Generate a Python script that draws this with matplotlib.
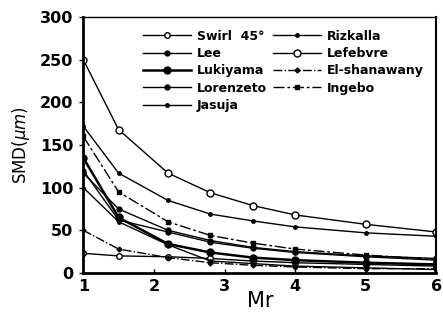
import matplotlib
matplotlib.use("Agg")
import matplotlib.pyplot as plt

# Mr positions of the measured points
mr = [1, 1.5, 2.2, 2.8, 3.4, 4, 5, 6]

# SMD (um)
swirl = [23, 20, 19, 17, 14, 12, 10, 8]
lee = [120, 62, 48, 36, 29, 24, 19, 15]
lukiyama = [135, 65, 34, 24, 18, 15, 12, 10]
lorenzeto = [117, 75, 50, 38, 30, 25, 20, 17]
jasuja = [100, 60, 33, 14, 11, 8, 6, 4]
rizkalla = [172, 117, 85, 69, 61, 54, 47, 43]
lefebvre = [250, 168, 117, 94, 79, 68, 57, 48]
el_shanawany = [50, 28, 18, 12, 9, 7, 5, 5]
ingebo = [160, 95, 60, 44, 35, 28, 21, 16]

names = ["Swirl  45°", "Lee", "Lukiyama", "Lorenzeto", "Jasuja",
         "Rizkalla", "Lefebvre", "El-shanawany", "Ingebo"]
series = [swirl, lee, lukiyama, lorenzeto, jasuja,
          rizkalla, lefebvre, el_shanawany, ingebo]

plt.rcParams['font.family'] = ['DejaVu Sans']

fig = plt.figure(figsize=(4.43, 3.2), dpi=100)
ax = fig.add_axes([0.188, 0.147, 0.797, 0.8])

# marker style for each curve
styles = [
    dict(marker='o', mfc='white', ms=4, lw=1.0, ls='-'),
    dict(marker='o', mfc='black', ms=3.5, lw=1.0, ls='-'),
    dict(marker='o', mfc='black', ms=5, lw=1.8, ls='-'),
    dict(marker='o', mfc='black', ms=3.5, lw=1.0, ls='-'),
    dict(marker='o', mfc='black', ms=2.5, lw=1.0, ls='-'),
    dict(marker='o', mfc='black', ms=2.5, lw=1.0, ls='-'),
    dict(marker='o', mfc='white', ms=5, lw=1.0, ls='-'),
    dict(marker='D', mfc='black', ms=2.5, lw=1.0, ls='-.'),
    dict(marker='s', mfc='black', ms=3.5, lw=1.0, ls=(0, (8, 2, 2, 2))),
]

for name, vals, st in zip(names, series, styles):
    ax.plot(mr, vals, color='black', mec='black', mew=1.0, label=name, **st)

ax.set_xlim(1, 6)
ax.set_ylim(0, 300)
ax.set_xticks([1, 2, 3, 4, 5, 6])
ax.set_yticks([0, 50, 100, 150, 200, 250, 300])
ax.tick_params(direction='in', length=3, width=1, labelsize=11.5, pad=4)
for lab in ax.get_xticklabels() + ax.get_yticklabels():
    lab.set_fontweight('bold')
ax.tick_params(axis='y', direction='out', length=3)

ax.spines['left'].set_linewidth(2)
ax.spines['bottom'].set_linewidth(2)
ax.spines['right'].set_linewidth(1.5)
ax.spines['top'].set_linewidth(1)

ax.set_xlabel("Mr", fontsize=15, labelpad=-2)
ax.set_ylabel("SMD($\\mu m$)", fontsize=12, labelpad=6)

leg = ax.legend(ncol=2, frameon=False, loc='upper left',
                bbox_to_anchor=(0.155, 0.97), fontsize=9,
                handlelength=3.8, labelspacing=0.35, columnspacing=0.5,
                handletextpad=0.5, borderaxespad=0)
for t in leg.get_texts():
    t.set_fontweight('bold')

fig.savefig("out.png", dpi=100)
